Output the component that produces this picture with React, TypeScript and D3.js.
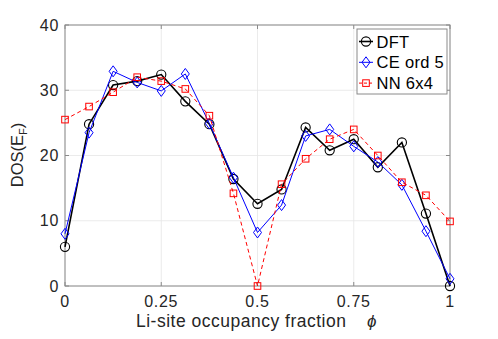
import React from 'react';
import * as d3 from 'd3';

// occupancy fractions phi = k/16
const phi = d3.range(17).map((k) => k / 16);
const dft = [6.0, 24.8, 30.8, 31.4, 32.4, 28.3, 24.8, 16.4, 12.6, 14.8, 24.3, 20.8, 22.5, 18.2, 22.0, 11.1, 0.0];
const ce5 = [8.0, 23.5, 32.9, 31.2, 29.9, 32.5, 24.9, 16.6, 8.2, 12.4, 23.0, 24.0, 21.4, 19.0, 15.5, 8.4, 1.1];
const nn64 = [25.5, 27.5, 29.7, 32.0, 31.4, 30.2, 26.1, 14.2, 0.0, 15.6, 19.5, 22.5, 24.0, 20.0, 15.9, 13.9, 9.9];
const xTicks = [0, 0.25, 0.5, 0.75, 1];
const xTickLabels = ['0', '0.25', '0.5', '0.75', '1'];
const yTicks = [0, 10, 20, 30, 40];
const seriesNames = ['DFT', 'CE ord 5', 'NN 6x4'];

const W = 498;
const H = 339;
const m = { left: 65, right: 48, top: 25, bottom: 53 };
const font = 'Liberation Sans, Arial, sans-serif';

const Marker = ({ kind, x, y, color }: { kind: string; x: number; y: number; color: string }) => {
  if (kind === 'circle') return <circle cx={x} cy={y} r={4.6} fill="none" stroke={color} strokeWidth={1.1} />;
  if (kind === 'diamond')
    return <path d={`M${x},${y - 5.5}L${x + 4},${y}L${x},${y + 5.5}L${x - 4},${y}Z`} fill="none" stroke={color} strokeWidth={1} />;
  return <rect x={x - 3.3} y={y - 3.3} width={6.6} height={6.6} fill="none" stroke={color} strokeWidth={1} />;
};

export default function App() {
  const x = d3.scaleLinear().domain([0, 1]).range([m.left, W - m.right]);
  const y = d3.scaleLinear().domain([0, 40]).range([H - m.bottom, m.top]);
  const line = d3.line<number>().x((_, i) => x(phi[i])).y((d) => y(d));

  const series = [
    { name: seriesNames[0], vals: dft, color: '#000000', kind: 'circle', width: 1.6, dash: undefined },
    { name: seriesNames[1], vals: ce5, color: '#0000ff', kind: 'diamond', width: 1, dash: undefined },
    { name: seriesNames[2], vals: nn64, color: '#ff0000', kind: 'square', width: 1, dash: '4,3' },
  ];
  const x0 = m.left, x1 = W - m.right, y0 = H - m.bottom, y1 = m.top;

  return (
    <svg width={W} height={H} style={{ position: 'absolute', left: 0, top: 0, background: '#fff' }} fontFamily={font}>
      {/* grid */}
      {xTicks.map((t) => (
        <line key={'gx' + t} x1={x(t)} x2={x(t)} y1={y1} y2={y0} stroke="#e6e6e6" strokeWidth={0.8} />
      ))}
      {yTicks.map((t) => (
        <line key={'gy' + t} x1={x0} x2={x1} y1={y(t)} y2={y(t)} stroke="#e6e6e6" strokeWidth={0.8} />
      ))}
      {/* axes box */}
      <rect x={x0} y={y1} width={x1 - x0} height={y0 - y1} fill="none" stroke="#8a8a8a" strokeWidth={1} />
      {xTicks.map((t, i) => (
        <g key={'tx' + t}>
          <line x1={x(t)} x2={x(t)} y1={y0} y2={y0 - 4} stroke="#8a8a8a" />
          <line x1={x(t)} x2={x(t)} y1={y1} y2={y1 + 4} stroke="#8a8a8a" />
          <text x={x(t)} y={y0 + 21} textAnchor="middle" fontSize={16} letterSpacing={0.7} fill="#262626">{xTickLabels[i]}</text>
        </g>
      ))}
      {yTicks.map((t) => (
        <g key={'ty' + t}>
          <line x1={x0} x2={x0 + 4} y1={y(t)} y2={y(t)} stroke="#8a8a8a" />
          <line x1={x1} x2={x1 - 4} y1={y(t)} y2={y(t)} stroke="#8a8a8a" />
          <text x={x0 - 6} y={y(t) + 5.5} textAnchor="end" fontSize={16} letterSpacing={0.7} fill="#262626">{t}</text>
        </g>
      ))}
      {/* series */}
      {series.map((s) => (
        <g key={s.name}>
          <path d={line(s.vals) || ''} fill="none" stroke={s.color} strokeWidth={s.width} strokeDasharray={s.dash} />
          {s.vals.map((v, i) => (
            <Marker key={i} kind={s.kind} x={x(phi[i])} y={y(v)} color={s.color} />
          ))}
        </g>
      ))}
      {/* legend */}
      <rect x={357} y={29} width={90} height={65} fill="#fff" stroke="#8a8a8a" strokeWidth={1} />
      {series.map((s, i) => {
        const ly = 41.5 + i * 20.8;
        return (
          <g key={'lg' + s.name}>
            <line x1={359} x2={373} y1={ly} y2={ly} stroke={s.color} strokeWidth={s.width} strokeDasharray={s.dash ? '3,2' : undefined} />
            <Marker kind={s.kind} x={366} y={ly} color={s.color} />
            <text x={376.5} y={ly + 6} fontSize={16.5} letterSpacing={0.3} fill="#000">{s.name}</text>
          </g>
        );
      })}
      {/* axis labels */}
      <text x={136} y={327} fontSize={17.5} letterSpacing={0.5} fill="#262626">Li-site occupancy fraction</text>
      <text x={367} y={327} fontSize={17} fontStyle="italic" fill="#262626">ϕ</text>
      <text transform={`translate(${23},${155}) rotate(-90)`} textAnchor="middle" fontSize={16.5} fill="#262626">
        DOS(E<tspan dy={4} fontSize={11}>F</tspan><tspan dy={-4}>)</tspan>
      </text>
    </svg>
  );
}
